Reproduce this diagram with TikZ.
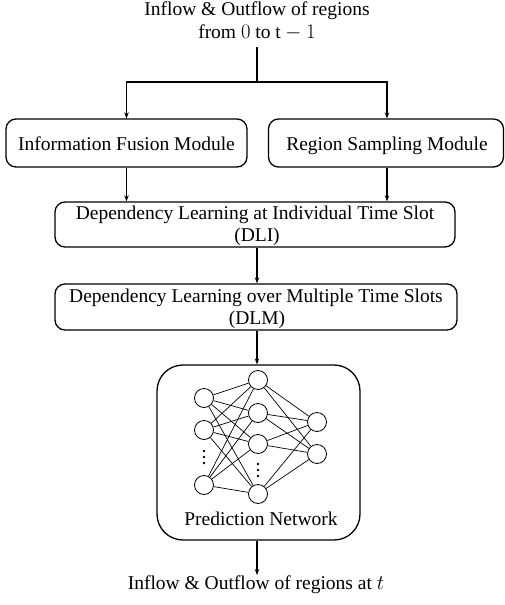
\documentclass[tikz,border=0pt]{standalone}
\usepackage{fontspec}
\setmainfont{Liberation Serif}
\usetikzlibrary{arrows.meta}
\begin{document}
\begin{tikzpicture}[x=1pt,y=-1pt,
  box/.style={draw, line width=1.3pt, rounded corners=10pt, inner sep=0pt},
  lbl/.style={inner sep=0pt, anchor=base, text height=13pt, text depth=2.5pt,
    font=\fontsize{19.5}{16}\selectfont},
  arr/.style={line width=1.1pt, -{Stealth[length=6pt,width=4.5pt]}},
  wire/.style={line width=1.1pt},
  neuron/.style={draw, circle, line width=0.8pt, minimum size=19pt, inner sep=0pt},
  syn/.style={line width=0.7pt},
  dot/.style={fill, circle, minimum size=2.6pt, inner sep=0pt}]
\useasboundingbox (0,0) rectangle (505,605);

% vertical axis of the flow
\coordinate (axis) at (257,0);

% input description
\node[lbl] (in1) at (257,15) {Inflow \& Outflow of regions};
\node[lbl] (in2) at (257,38) {from $0$ to $\mathrm{t}-1$};
\coordinate (top) at (257,47);
\coordinate (split) at (257,82);

% two parallel modules
\node[box, minimum width=241pt, minimum height=48pt] (ifm) at (126.5,143) {};
\node[lbl] (ifmt) at (126.5,150) {Information Fusion Module};
\node[box, minimum width=235pt, minimum height=48pt] (rsm) at (386,143) {};
\node[lbl] (rsmt) at (387,150) {Region Sampling Module};

% dependency learning blocks
\node[box, minimum width=400pt, minimum height=45pt] (dli) at (255,224.5) {};
\node[lbl] (dlit1) at (255,219.5) {Dependency Learning at Individual Time Slot};
\node[lbl] (dlit2) at (257,241.8) {(DLI)};
\node[box, minimum width=402pt, minimum height=46pt] (dlm) at (256,307) {};
\node[lbl] (dlmt1) at (256,302) {Dependency Learning over Multiple Time Slots};
\node[lbl] (dlmt2) at (257,324.3) {(DLM)};

% prediction network
\node[box, rounded corners=26pt, minimum width=203pt, minimum height=175pt] (pn) at (258.5,452.5) {};
\node[neuron] (a1) at (204,398) {};
\node[neuron] (a2) at (204,430) {};
\node[neuron] (a3) at (204,485) {};
\node[neuron] (b1) at (258,380) {};
\node[neuron] (b2) at (258,413) {};
\node[neuron] (b3) at (258,444) {};
\node[neuron] (b4) at (258,494) {};
\node[neuron] (c1) at (317,422) {};
\node[neuron] (c2) at (317,454) {};
\foreach \a in {a1,a2,a3}
  \foreach \b in {b1,b2,b3,b4}
    \draw[syn] (\a) -- (\b);
\foreach \b in {b1,b2,b3,b4}
  \foreach \c in {c1,c2}
    \draw[syn] (\b) -- (\c);
\node[dot] (ad1) at (204,451) {};
\node[dot] (ad2) at (204,457) {};
\node[dot] (ad3) at (204,463) {};
\node[dot] (bd1) at (258,464) {};
\node[dot] (bd2) at (258,470) {};
\node[dot] (bd3) at (258,476) {};
\node[lbl] (pnt) at (261,525) {Prediction Network};

% output description
\node[lbl] (out) at (256,589) {Inflow \& Outflow of regions at $t$};
\coordinate (outtop) at (257,575);

% connectors
\draw[wire] (top) -- (split);
\draw[arr] (split) -| (ifm.north);
\draw[arr] (split) -| ([xshift=1pt]rsm.north);
\draw[arr] (ifm.south) -- (ifm.south |- dli.north);
\draw[arr] ([xshift=1pt]rsm.south) -- ([xshift=1pt]rsm.south |- dli.north);
\draw[arr] (dli.south -| axis) -- (dlm.north -| axis);
\draw[arr] (dlm.south -| axis) -- (pn.north -| axis);
\draw[arr] (pn.south -| axis) -- (outtop);
\end{tikzpicture}
\end{document}
